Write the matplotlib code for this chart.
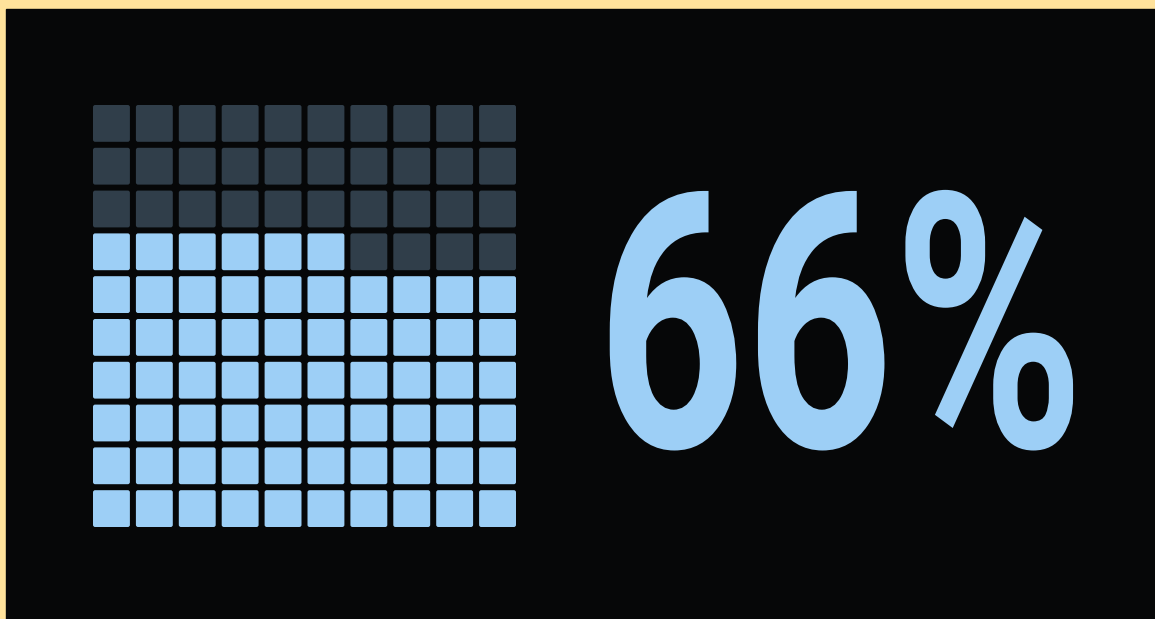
import numpy as np
import matplotlib
matplotlib.use("Agg")
import matplotlib.pyplot as plt
from matplotlib.patches import Rectangle, FancyBboxPatch
from matplotlib.patheffects import AbstractPathEffect
from matplotlib.transforms import Affine2D

# Waffle data: share of a 10 x 10 grid that is filled
n_rows = 10
n_cols = 10
filled_percent = 66
value_label = f"{filled_percent}%"

FILL_COLOR = "#9dcff6"
EMPTY_COLOR = "#303e4a"
BG_COLOR = "#060708"
FRAME_COLOR = "#ffe29b"

W, H = 1155, 619
fig = plt.figure(figsize=(W / 100, H / 100), dpi=100)

# Background layer in pixel units
bg = fig.add_axes([0, 0, 1, 1])
bg.set_xlim(0, W)
bg.set_ylim(H, 0)
bg.axis("off")
bg.add_patch(Rectangle((0, 0), W, H, color=FRAME_COLOR, zorder=0))
bg.add_patch(Rectangle((6, 9), W, H, color=BG_COLOR, zorder=1))


class Stretch(AbstractPathEffect):
    """Scale glyph outlines about the text origin (tall, condensed look)."""

    def __init__(self, sx=1.0, sy=1.0):
        super().__init__()
        self.sx = sx
        self.sy = sy

    def draw_path(self, renderer, gc, tpath, affine, rgbFace=None):
        x0, y0 = affine.transform((0, 0))
        t = affine + Affine2D().translate(-x0, -y0).scale(self.sx, self.sy).translate(x0, y0)
        renderer.draw_path(gc, tpath, t, rgbFace)


bg.text(597, 447, value_label, color=FILL_COLOR, fontsize=186,
        family=["Roboto", "DejaVu Sans"], fontweight="bold",
        ha="left", va="baseline",
        path_effects=[Stretch(1.0, 1.38)], zorder=3)

# Waffle grid: one unit per cell, filled from the bottom row upward, left to right
left_px, top_px, pitch_x, pitch_y = 90, 102, 42.9, 42.8
ax = fig.add_axes([left_px / W, 1 - (top_px + n_rows * pitch_y) / H,
                   n_cols * pitch_x / W, n_rows * pitch_y / H])
ax.set_xlim(0, n_cols)
ax.set_ylim(0, n_rows)
ax.axis("off")
ax.patch.set_alpha(0)

gap = 0.14
for idx in range(n_rows * n_cols):
    r, c = divmod(idx, n_cols)
    color = FILL_COLOR if idx < filled_percent else EMPTY_COLOR
    ax.add_patch(FancyBboxPatch((c + gap / 2, r + gap / 2), 1 - gap, 1 - gap,
                                boxstyle="round,pad=0,rounding_size=0.05",
                                facecolor=color, edgecolor="none"))

fig.savefig("out.png", dpi=100, facecolor=FRAME_COLOR)
